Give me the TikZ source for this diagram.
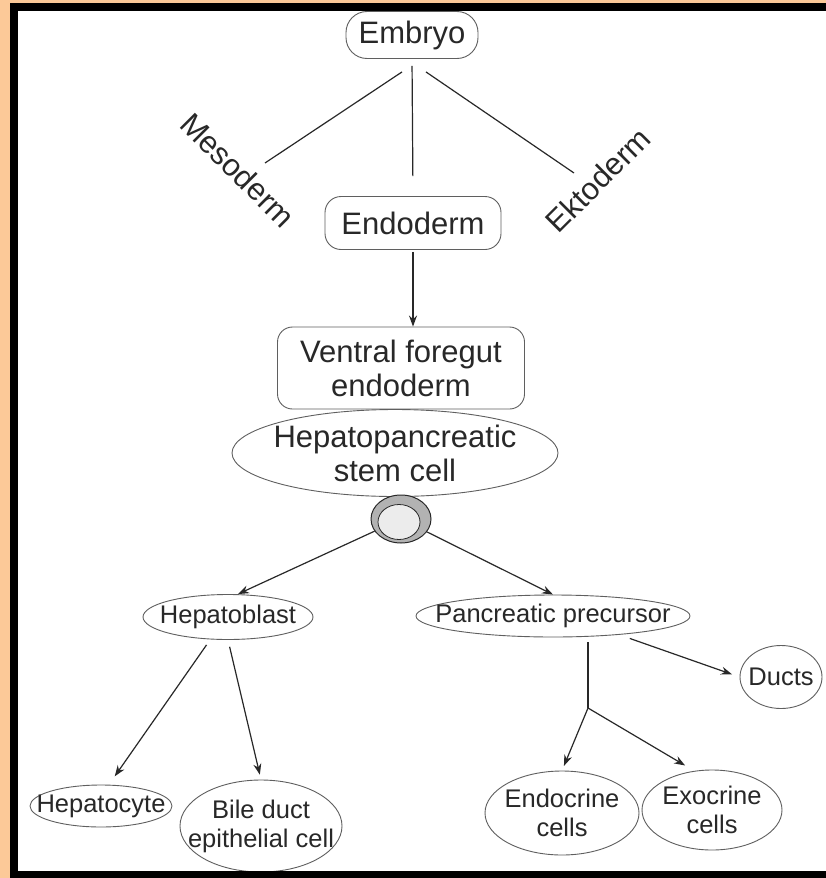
\documentclass[tikz,border=0pt]{standalone}
\usepackage{fontspec}
\setmainfont{Liberation Sans}
\usepackage{tikz}
\usetikzlibrary{arrows.meta,positioning,shapes.geometric,calc}
\definecolor{peach}{RGB}{252,201,152}
\definecolor{ink}{RGB}{40,40,40}
\definecolor{rim}{RGB}{95,95,95}

\begin{document}
\begin{tikzpicture}[x=1pt, y=-1pt, font=\fontsize{31}{34}\selectfont, text=ink,
  box/.style={draw=rim, line width=0.9pt, rounded corners=16pt, align=center, inner sep=0pt},
  oval/.style={ellipse, draw=rim, line width=0.9pt, align=center, inner xsep=-40pt, inner ysep=0pt},
  small/.style={font=\fontsize{25.5}{29}\selectfont},
  link/.style={draw=ink, line width=1.2pt},
  arr/.style={link, -{Stealth[length=11pt, width=8pt]}}]
  \useasboundingbox (0,0) rectangle (826,878);
  % frame
  \fill[peach] (0,0) rectangle (826,878);
  \fill[black] (10,3) rectangle (826,878);
  \fill[white] (18,11) rectangle (826,871);
  % germ layers
  \node[box, minimum width=132pt, minimum height=47pt, rounded corners=21pt] (embryo) at (412,35) {Embryo};
  \node[rotate=-45] (meso) at (238,170) {Mesoderm};
  \node[rotate=45] (ekto) at (598,180) {Ektoderm};
  \node[box, minimum width=176pt, minimum height=53pt] (endo) at (413,223) {Endoderm};
  \coordinate (mesoEnd) at (265,163);
  \coordinate (ektoEnd) at (574,173);
  \draw[link] ([xshift=-10pt,yshift=-13pt]embryo.south) -- (mesoEnd);
  \draw[link] ([xshift=14pt,yshift=-13pt]embryo.south) -- (ektoEnd);
  \draw[link, shorten <=7pt, shorten >=20pt] (embryo.south) -- (endo.north);
  % foregut and stem cell
  \node[box, minimum width=247pt, minimum height=82pt, rounded corners=15pt] (ventral) at (401,368) {Ventral foregut\\endoderm};
  \node[oval, minimum width=326pt, minimum height=87pt] (stem) at (395,453) {Hepatopancreatic\\stem cell};
  \draw[arr, shorten <=2pt] (endo.south) -- (endo.south |- ventral.north);
  \node[ellipse, draw=ink, fill=gray!60, line width=1pt, minimum width=60pt, minimum height=48pt, inner sep=0pt] (cell) at (401,519) {};
  \node[ellipse, draw=ink, fill=gray!15, line width=0.8pt, minimum width=42pt, minimum height=35pt, inner sep=0pt] (nucleus) at (399,522) {};
  % liver branch
  \node[oval, small, minimum width=170pt, minimum height=45pt] (hblast) at (228,617) {Hepatoblast};
  \node[oval, small, minimum width=142pt, minimum height=42pt] (hcyte) at (101,806) {Hepatocyte};
  \node[oval, small, minimum width=162pt, minimum height=92pt] (bile) at (261,826) {Bile duct\\epithelial cell};
  \draw[arr] (cell) -- ([xshift=10pt]hblast.north);
  \draw[arr, shorten <=6pt, shorten >=10pt] ([xshift=-18pt]hblast.south) -- ([xshift=8pt]hcyte.north);
  \draw[arr, shorten <=7pt, shorten >=5pt] (hblast.south) -- (bile.north);
  % pancreas branch
  \node[oval, small, minimum width=274pt, minimum height=42pt] (panc) at (553,616) {Pancreatic precursor};
  \node[oval, small, minimum width=82pt, minimum height=63pt] (ducts) at (781,677) {Ducts};
  \node[oval, small, minimum width=154pt, minimum height=84pt] (endocr) at (562,813) {Endocrine\\cells};
  \node[oval, small, minimum width=140pt, minimum height=80pt] (exocr) at (712,810) {Exocrine\\cells};
  \coordinate (split) at (588,708);
  \draw[arr] (cell) -- (panc.north);
  \draw[link, shorten <=5pt] (panc.south -| split) -- (split);
  \draw[arr, shorten >=5pt] (split) -- (endocr.north);
  \draw[arr, shorten >=8pt] (split) -- ([xshift=-20pt]exocr.north);
  \draw[arr, shorten <=3pt, shorten >=8pt] ([xshift=74pt]panc.south) -- (ducts.west);
  % bottom edge of the frame
  \fill[black] (10,871) rectangle (826,878);
\end{tikzpicture}
\end{document}
